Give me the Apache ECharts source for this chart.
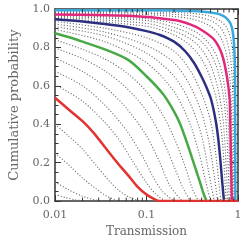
<!DOCTYPE html>
<html><head><meta charset="utf-8">
<script src="https://cdn.jsdelivr.net/npm/echarts@6/dist/echarts.min.js"></script>
<style>html,body{margin:0;padding:0;background:#fff}#c{width:247px;height:243px}</style>
</head><body><div id="c"></div>
<script>
// ---- data ----
const xTickValues = [0.01, 0.1, 1];
const xTickLabels = ['0.01', '0.1', '1'];
const xMinorTicks = [0.02,0.03,0.04,0.05,0.06,0.07,0.08,0.09,0.2,0.3,0.4,0.5,0.6,0.7,0.8,0.9];
const yTickLabels = ['0.0','0.2','0.4','0.6','0.8','1.0'];

const red = [[0.01,0.538],[0.014,0.478],[0.02,0.416],[0.027,0.35],[0.035,0.282],[0.048,0.2],[0.063,0.134],[0.079,0.077],[0.1,0.034],[0.119,0.013],[0.139,0.0],[1,0]];
const green = [[0.01,0.874],[0.015,0.85],[0.02,0.83],[0.035,0.79],[0.063,0.735],[0.1,0.65],[0.15,0.56],[0.19,0.485],[0.229,0.41],[0.265,0.33],[0.3,0.255],[0.34,0.175],[0.38,0.105],[0.41,0.055],[0.43,0.025],[0.45,0.005]];
const navy = [[0.01,0.947],[0.02,0.935],[0.035,0.922],[0.063,0.905],[0.1,0.885],[0.138,0.866],[0.2,0.83],[0.265,0.78],[0.33,0.72],[0.3975,0.65],[0.45,0.595],[0.5075,0.53],[0.572,0.416],[0.61,0.32],[0.646,0.197],[0.675,0.09],[0.7,0.008]];
const magenta = [[0.01,0.972],[0.063,0.965],[0.2,0.943],[0.3,0.92],[0.4,0.891],[0.55,0.84],[0.67,0.762],[0.756,0.65],[0.81,0.53],[0.823,0.416],[0.84,0.2],[0.856,0.0]];
const cyan = [[0.01,0.994],[0.1,0.993],[0.3,0.99],[0.45,0.985],[0.593,0.976],[0.68,0.965],[0.756,0.95],[0.82,0.928],[0.856,0.905],[0.88,0.875],[0.9,0.835],[0.915,0.77],[0.927,0.70],[0.932,0.416],[0.936,0.0]];

const d1 = [[0.01,0.035],[0.013,0.018],[0.017,0.006],[0.021,0.0]];
const d2 = [[0.01,0.10],[0.014,0.06],[0.02,0.025],[0.028,0.005],[0.033,0.0]];
const d3 = [[0.01,0.25],[0.014,0.19],[0.02,0.12],[0.028,0.065],[0.037,0.025],[0.05,0.0]];
const d4 = [[0.01,0.40],[0.014,0.34],[0.02,0.27],[0.03,0.17],[0.04,0.10],[0.05,0.055],[0.065,0.02],[0.085,0.0]];
const e1 = [[0.01,0.607],[0.02,0.52],[0.035,0.41],[0.05,0.32],[0.07,0.21],[0.1,0.095],[0.13,0.03],[0.165,0.0]];
const e2 = [[0.01,0.676],[0.02,0.6],[0.035,0.5],[0.06,0.37],[0.09,0.235],[0.12,0.12],[0.15,0.05],[0.2,0.0]];
const e3 = [[0.01,0.745],[0.02,0.675],[0.035,0.595],[0.06,0.485],[0.1,0.34],[0.14,0.2],[0.18,0.08],[0.245,0.0]];
const e4 = [[0.01,0.797],[0.02,0.742],[0.035,0.678],[0.06,0.59],[0.1,0.47],[0.15,0.32],[0.2,0.18],[0.25,0.07],[0.3,0.0]];
const e5 = [[0.01,0.84],[0.02,0.79],[0.035,0.74],[0.06,0.67],[0.1,0.57],[0.15,0.45],[0.2,0.33],[0.26,0.19],[0.32,0.06],[0.37,0.0]];
const f1 = [[0.01,0.893],[0.035,0.83],[0.1,0.72],[0.2,0.57],[0.3,0.40],[0.38,0.24],[0.44,0.11],[0.5,0.0]];
const f2 = [[0.01,0.908],[0.035,0.86],[0.1,0.77],[0.2,0.65],[0.3,0.51],[0.4,0.34],[0.47,0.17],[0.52,0.06],[0.55,0.0]];
const f3 = [[0.01,0.922],[0.035,0.88],[0.1,0.81],[0.2,0.72],[0.3,0.60],[0.4,0.46],[0.48,0.31],[0.55,0.13],[0.6,0.0]];
const f4 = [[0.01,0.935],[0.035,0.90],[0.1,0.85],[0.2,0.78],[0.3,0.68],[0.4,0.56],[0.5,0.42],[0.57,0.25],[0.62,0.09],[0.65,0.0]];
const g1 = [[0.01,0.952],[0.1,0.91],[0.2,0.865],[0.3,0.81],[0.4,0.74],[0.5,0.64],[0.6,0.50],[0.67,0.33],[0.71,0.16],[0.74,0.0]];
const g2 = [[0.01,0.957],[0.1,0.925],[0.2,0.885],[0.3,0.845],[0.4,0.79],[0.5,0.71],[0.6,0.59],[0.68,0.44],[0.73,0.25],[0.77,0.0]];
const g3 = [[0.01,0.962],[0.1,0.94],[0.2,0.905],[0.3,0.87],[0.4,0.83],[0.5,0.77],[0.6,0.68],[0.7,0.53],[0.76,0.32],[0.8,0.0]];
const g4 = [[0.01,0.967],[0.1,0.95],[0.2,0.925],[0.3,0.895],[0.4,0.86],[0.5,0.81],[0.6,0.74],[0.7,0.62],[0.78,0.42],[0.81,0.2],[0.83,0.0]];
const h1 = [[0.01,0.977],[0.1,0.97],[0.3,0.95],[0.5,0.91],[0.65,0.85],[0.75,0.76],[0.82,0.62],[0.85,0.45],[0.865,0.25],[0.877,0.0]];
const h2 = [[0.01,0.982],[0.1,0.978],[0.3,0.965],[0.5,0.94],[0.65,0.90],[0.75,0.84],[0.83,0.74],[0.87,0.6],[0.885,0.4],[0.898,0.0]];
const h3 = [[0.01,0.988],[0.1,0.985],[0.3,0.978],[0.5,0.962],[0.65,0.935],[0.75,0.905],[0.83,0.85],[0.88,0.76],[0.9,0.6],[0.91,0.4],[0.918,0.0]];

const dottedCurves = [d1,d2,d3,d4,e1,e2,e3,e4,e5,f1,f2,f3,f4,g1,g2,g3,g4,h1,h2,h3];
const colouredCurves = [
  {name:'cyan', data:cyan, color:'#38a9dc'},
  {name:'magenta', data:magenta, color:'#e2287c'},
  {name:'navy', data:navy, color:'#2c2f80'},
  {name:'green', data:green, color:'#46a946'},
  {name:'red', data:red, color:'#e3322f'}
];

// ---- chart ----
const FONT = 'DejaVu Serif';
const TXT = '#666';
const AX = '#333';
const chart = echarts.init(document.getElementById('c'));

const series = [];
dottedCurves.forEach((d, i) => series.push({
  type:'line', data:d, showSymbol:false, smooth:0.3, silent:true, z:2,
  lineStyle:{color:'#6a6a6a', width:1.1, type:[1.1,1.9]}
}));
colouredCurves.forEach(c => series.push({
  type:'line', name:c.name, data:c.data, showSymbol:false, smooth:0.3, silent:true, z:3,
  lineStyle:{color:c.color, width:2.5}
}));
series.push({
  type:'custom', silent:true, z:6, clip:false,
  data:xMinorTicks.map(v => [v, 0]),
  encode:{x:0, y:1},
  renderItem:function(params, api){
    const x = api.value(0);
    const b = api.coord([x, 0]);
    const t = api.coord([x, 1]);
    return {type:'group', children:[
      {type:'line', shape:{x1:b[0], y1:b[1], x2:b[0], y2:b[1]-3.5}, style:{stroke:AX, lineWidth:1}},
      {type:'line', shape:{x1:t[0], y1:t[1], x2:t[0], y2:t[1]+3.5}, style:{stroke:AX, lineWidth:1}}
    ]};
  }
});

const xBase = {
  type:'log', logBase:10, min:0.01, max:1,
  axisLine:{show:true, onZero:false, lineStyle:{color:AX, width:1.5}},
  axisTick:{show:true, inside:true, length:6, lineStyle:{color:AX, width:1}},
  splitLine:{show:false}, minorTick:{show:false}, minorSplitLine:{show:false}
};
const yBase = {
  type:'value', min:0, max:1, interval:0.2,
  axisLine:{show:true, onZero:false, lineStyle:{color:AX, width:1.5}},
  axisTick:{show:true, inside:true, length:6, lineStyle:{color:AX, width:1}},
  minorTick:{show:true, splitNumber:4, length:3.5, lineStyle:{color:AX, width:1}},
  splitLine:{show:false}, minorSplitLine:{show:false}
};

chart.setOption({
  animation:false,
  grid:{left:48, right:9, top:9, bottom:40.5, containLabel:false},
  xAxis:[
    Object.assign({}, xBase, {position:'bottom',
      name:'Transmission', nameLocation:'middle', nameGap:21,
      nameTextStyle:{fontFamily:FONT, fontSize:12, color:TXT},
      axisLabel:{show:true, margin:9, fontFamily:FONT, fontSize:11, color:TXT,
        formatter:function(v){
          let best = 0;
          xTickValues.forEach((t,i)=>{ if (Math.abs(Math.log10(t)-Math.log10(v)) < Math.abs(Math.log10(xTickValues[best])-Math.log10(v))) best = i; });
          return xTickLabels[best];
        }}
    }),
    Object.assign({}, xBase, {position:'top', axisLabel:{show:false}})
  ],
  yAxis:[
    Object.assign({}, yBase, {position:'left',
      name:'Cumulative probability', nameLocation:'middle', nameGap:34,
      nameTextStyle:{fontFamily:FONT, fontSize:13, color:TXT},
      axisLabel:{show:true, margin:5, fontFamily:FONT, fontSize:11, color:TXT,
        formatter:function(v){ return yTickLabels[Math.round(v/0.2)]; }}
    }),
    Object.assign({}, yBase, {position:'right', axisLabel:{show:false}})
  ],
  series:series
});
</script></body></html>
